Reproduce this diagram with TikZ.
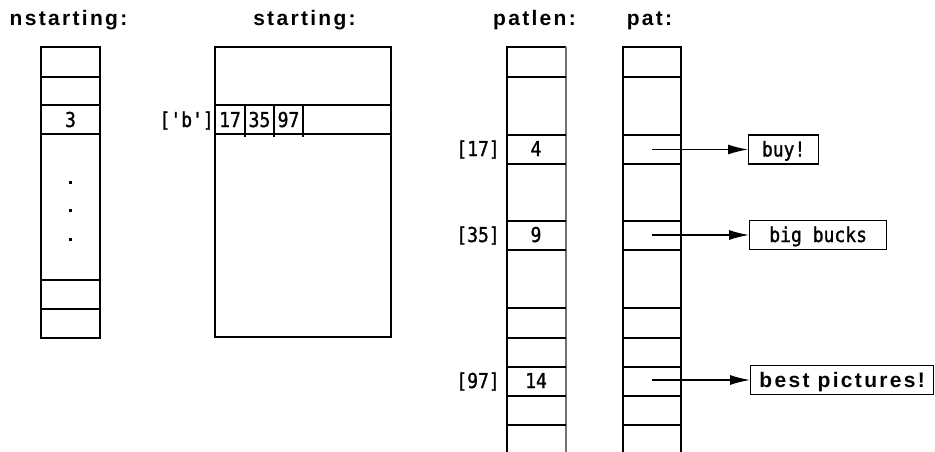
\documentclass[tikz,border=0pt]{standalone}
\usepackage{fontspec}
\usetikzlibrary{arrows.meta}
\newfontfamily\hdfont[LetterSpace=11]{Liberation Sans Bold}
\newfontfamily\cellfont[FakeStretch=0.88,FakeBold=1.2]{DejaVu Sans Mono}
\tikzset{
  hdf/.style={font=\hdfont\fontsize{21}{24}\selectfont},
  cf/.style={font=\cellfont\fontsize{20.5}{24}\selectfont},
  hd/.style={hdf, anchor=base, inner sep=0pt},
  celltxt/.style={cf, anchor=base, inner sep=0pt},
  grid/.style={line width=1.3pt, black},
  txtbox/.style={draw, line width=1.3pt, inner sep=0pt, minimum height=29pt, anchor=west,
                 text height=14pt, text depth=0pt},
  slot/.style={inner sep=0pt, minimum width=58pt, minimum height=29pt},
  ptr/.style={line width=1.3pt, -{Latex[length=20pt,width=10pt]}}
}
\begin{document}
\begin{tikzpicture}[x=1pt,y=-1pt]
\useasboundingbox (0,0) rectangle (935,452);
% headers
\node[hd] (hn) at (68.5,26) {nstarting:};
\node[hd] (hs) at (304.5,26) {starting:};
\node[hd] (hl) at (534.5,26) {patlen:};
\node[hd] (hp) at (649.5,26) {pat:};
% nstarting column
\draw[grid] (41,47) rectangle (100,338);
\foreach \y in {77,105,134,280,309} \draw[grid] (41,\y) -- (100,\y);
\node[celltxt] (n3) at (70.5,127) {3};
\foreach \y in {182,210,239} \fill (69,\y-1.5) rectangle ++(3,3);
% starting
\draw[grid] (215,47) rectangle (391,337);
\draw[grid] (215,105) -- (391,105);
\draw[grid] (215,134) -- (391,134);
\foreach \x in {245,274,303} \draw[grid] (\x,105) -- (\x,137);
\node[celltxt, anchor=base east] (sb) at (214,127) {['b']};
\node[celltxt] (s17) at (230,127) {17};
\node[celltxt] (s35) at (259.5,127) {35};
\node[celltxt] (s97) at (288.5,127) {97};
% patlen
\draw[grid] (507,452) -- (507,47) -- (566,47);
\draw[line width=2.2pt, black!55] (566,47) -- (566,452);
\foreach \y in {77,135,164,221,250,308,338,367,396,425} \draw[grid] (507,\y) -- (566,\y);
\node[celltxt, anchor=base east] (i17) at (500,156) {[17]};
\node[celltxt] (l4) at (536,156) {4};
\node[celltxt, anchor=base east] (i35) at (500,242) {[35]};
\node[celltxt] (l9) at (536,242) {9};
\node[celltxt, anchor=base east] (i97) at (500,388) {[97]};
\node[celltxt] (l14) at (536,388) {14};
% pat
\draw[grid] (623,452) -- (623,47) -- (681,47) -- (681,452);
\foreach \y in {77,135,164,221,250,308,338,367,396,425} \draw[grid] (623,\y) -- (681,\y);
\node[slot] (p17) at (652,149.5) {};
\node[slot] (p35) at (652,235) {};
\node[slot] (p97) at (652,380) {};
% string boxes
\node[txtbox, minimum width=70pt, cf] (buy) at (748,149.5) {buy!};
\node[txtbox, minimum width=137pt, cf] (big) at (749,235) {big bucks};
\node[txtbox, minimum width=183pt, hdf, text height=15pt] (best) at (750,380) {best pictures!};
\draw[ptr] (p17.center) -- (buy.west);
\draw[ptr] (p35.center) -- (big.west);
\draw[ptr] (p97.center) -- (best.west);
\end{tikzpicture}
\end{document}
